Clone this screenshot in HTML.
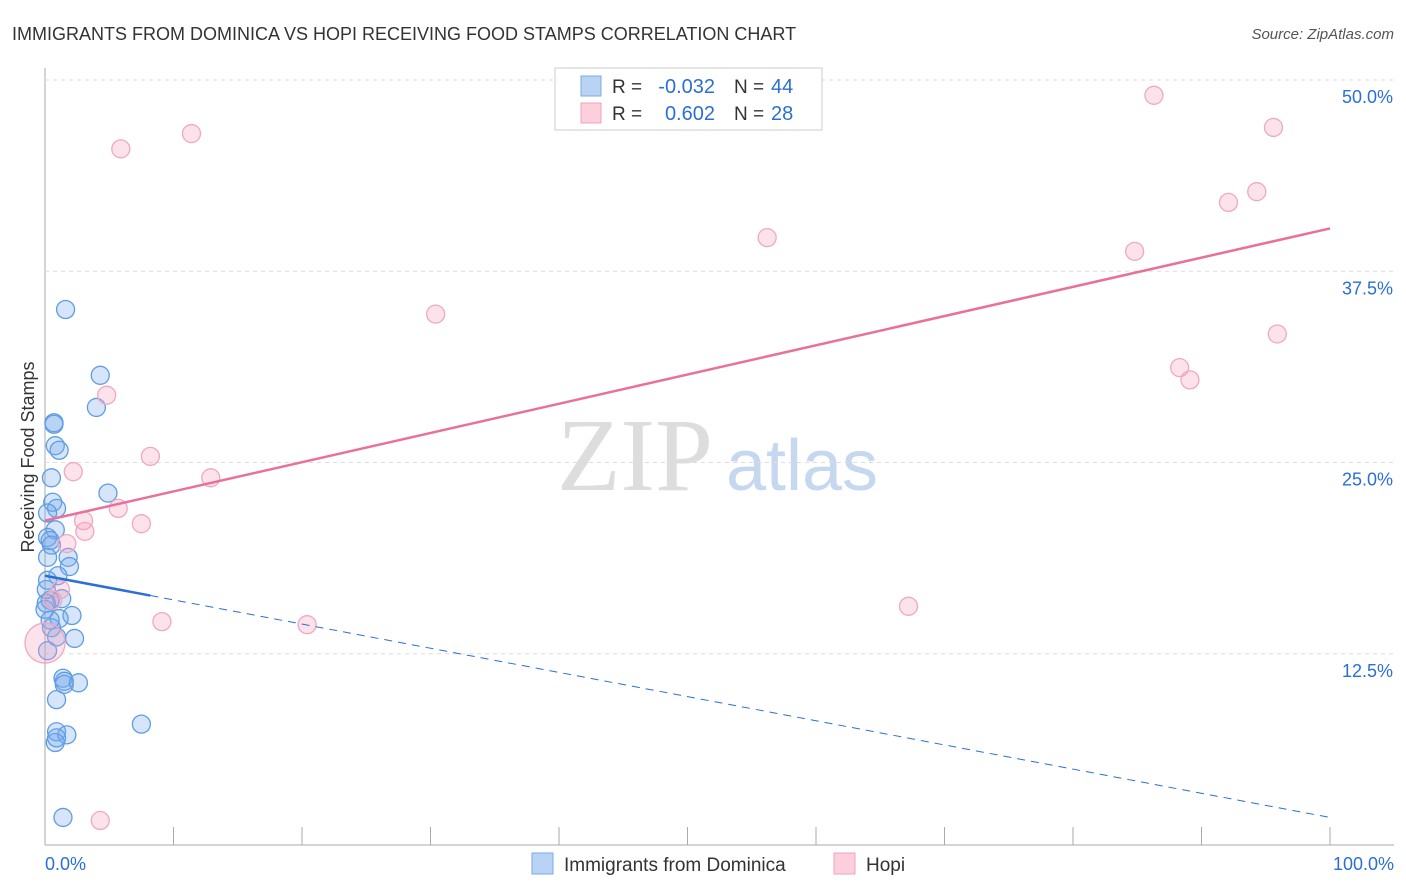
<!DOCTYPE html>
<html><head><meta charset="utf-8"><style>
body{margin:0;background:#fff;font-family:"Liberation Sans",sans-serif}
svg{display:block}
</style></head><body>
<svg id="c" width="1406" height="892">
<text x="12" y="40" font-size="18" fill="#333">IMMIGRANTS FROM DOMINICA VS HOPI RECEIVING FOOD STAMPS CORRELATION CHART</text>
<text x="1394" y="39" font-size="15" fill="#555" text-anchor="end" font-style="italic">Source: ZipAtlas.com</text>
<text x="635" y="490" font-size="104" fill="#ddd" font-family="Liberation Serif,serif" text-anchor="middle">ZIP</text>
<text x="802" y="490" font-size="72" fill="#c5d8ef" text-anchor="middle">atlas</text>
<text transform="translate(34,457) rotate(-90)" font-size="18" fill="#333" text-anchor="middle">Receiving Food Stamps</text>
<g id="grid"></g><g id="pts"></g><g id="lines"></g>
<g>
<rect x="555" y="68" width="267" height="62" fill="#fff" stroke="#ccc"/>
<rect x="581" y="76" width="20" height="20" fill="#b9d3f5" stroke="#7aa9e6"/>
<rect x="581" y="103" width="20" height="20" fill="#fbd0dc" stroke="#f0a0bc"/>
<text x="612" y="93" font-size="19" fill="#333">R =</text>
<text x="715" y="93" font-size="20" fill="#2a6fd6" text-anchor="end">-0.032</text>
<text x="734" y="93" font-size="19" fill="#333">N =</text>
<text x="771" y="93" font-size="20" fill="#2a6fd6">44</text>
<text x="612" y="120" font-size="19" fill="#333">R =</text>
<text x="715" y="120" font-size="20" fill="#2a6fd6" text-anchor="end">0.602</text>
<text x="734" y="120" font-size="19" fill="#333">N =</text>
<text x="771" y="120" font-size="20" fill="#2a6fd6">28</text>
</g>
<g>
<rect x="532" y="853" width="21" height="21" fill="#b9d3f5" stroke="#7aa9e6"/>
<text x="564" y="871" font-size="19" fill="#333">Immigrants from Dominica</text>
<rect x="834" y="853" width="21" height="21" fill="#fbd0dc" stroke="#f0a0bc"/>
<text x="866" y="871" font-size="19" fill="#333">Hopi</text>
</g>
<text x="45" y="870" font-size="18" fill="#2a6fd6">0.0%</text>
<text x="1394" y="870" font-size="18" fill="#2a6fd6" text-anchor="end">100.0%</text>
</svg>
<script>
const yTicks=[12.5,25,37.5,50];
const yTickLabels=["12.5%","25.0%","37.5%","50.0%"];
const blueX=[1.6,4.3,4.0,0.7,0.7,0.8,1.1,0.5,4.9,0.6,0.9,0.2,0.8,0.2,0.4,0.5,1.8,0.2,1.9,1.0,0.4,1.3,0.1,2.1,1.1,0.5,0.9,2.3,1.4,1.5,1.5,2.6,0.9,0.9,1.7,0.8,0.9,7.5,1.4,0,0.1,0.2,0.4,0.2];
const blueY=[35.0,30.7,28.6,27.6,27.5,26.1,25.8,24.0,23.0,22.4,22.0,21.7,20.6,20.1,19.9,19.6,18.8,18.8,18.2,17.6,16.0,16.1,15.8,15.0,14.8,14.2,13.6,13.5,10.9,10.7,10.5,10.6,9.5,7.4,7.2,6.7,7.0,7.9,1.8,15.4,16.7,17.3,14.7,12.7];
const pinkX=[5.9,11.4,30.4,56.2,86.3,95.6,94.3,92.1,84.8,95.9,88.3,89.1,4.8,8.2,2.2,12.9,5.7,3.0,7.5,3.1,1.7,1.2,0.6,9.1,20.4,67.2,4.3,0];
const pinkY=[45.5,46.5,34.7,39.7,49.0,46.9,42.7,42.0,38.8,33.4,31.2,30.4,29.4,25.4,24.4,24.0,22.0,21.2,21.0,20.5,19.7,16.7,16.0,14.6,14.4,15.6,1.6,13.2];
const blueTrend=[17.6,1.8];
const pinkTrend=[21.2,40.3];
const NS="http://www.w3.org/2000/svg";
const sx=v=>45+v*12.85, sy=v=>845-v*15.3;
function mk(t,a,p){const e=document.createElementNS(NS,t);for(const k in a)e.setAttribute(k,a[k]);p.appendChild(e);return e;}
const g=document.getElementById('grid');
const ax=mk('line',{x1:45,y1:68,x2:45,y2:845,stroke:'#aaa'},g);


const bx=mk('line',{x1:45,y1:845,x2:1394,y2:845,stroke:'#aaa'},g);


for(let i=1;i<=10;i++){const t=mk('line',{x1:45+i*128.5,y1:827,x2:45+i*128.5,y2:845,stroke:'#aaa'},g);

}
yTicks.forEach((v,i)=>{const l=mk('line',{x1:45,x2:1394,y1:sy(v),y2:sy(v),stroke:'#ddd','stroke-dasharray':'4,4'},g);


const t=mk('text',{x:1393,y:sy(v)+23,'font-size':18,fill:'#2a6fd6','text-anchor':'end'},g);t.textContent=yTickLabels[i];

});
const p=document.getElementById('pts');
blueX.forEach((x,i)=>{const c=mk('circle',{cx:sx(x),cy:sy(blueY[i]),r:9,fill:'rgba(120,170,235,0.3)',stroke:'#5f9de3','stroke-width':1.3},p);

});
pinkX.forEach((x,i)=>{const c=mk('circle',{cx:sx(x),cy:sy(pinkY[i]),r:i==27?20:9,fill:'rgba(245,160,190,0.3)',stroke:'#f0a8c0','stroke-width':1.3},p);

});
const L=document.getElementById('lines');
const by=x=>blueTrend[0]+(blueTrend[1]-blueTrend[0])*x/100;
const b1=mk('line',{x1:sx(0),y1:sy(by(0)),x2:sx(8.2),y2:sy(by(8.2)),stroke:'#2a6fd6','stroke-width':2.5},L);


const b2=mk('line',{x1:sx(8.2),y1:sy(by(8.2)),x2:sx(100),y2:sy(by(100)),stroke:'#2a6fd6','stroke-width':1,'stroke-dasharray':'8,6'},L);


const pl=mk('line',{x1:sx(0),y1:sy(pinkTrend[0]),x2:sx(100),y2:sy(pinkTrend[1]),stroke:'#e8709a','stroke-width':2.5},L);


</script>
</body></html>
